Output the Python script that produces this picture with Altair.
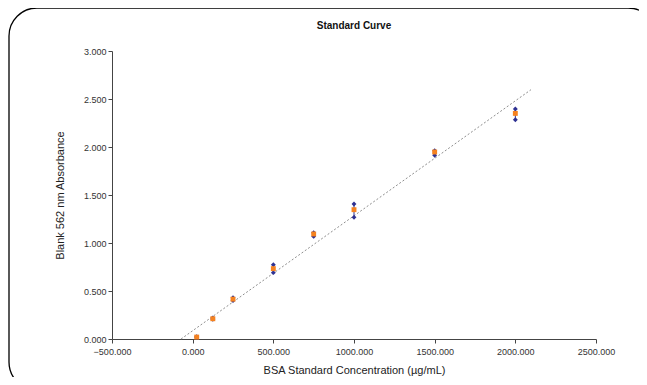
import altair as alt
import pandas as pd

# BSA standard concentrations (ug/mL)
conc = [25, 125, 250, 500, 750, 1000, 1500, 2000]
# mean blank-corrected absorbance (orange markers)
mean_abs = [0.020, 0.211, 0.415, 0.733, 1.094, 1.347, 1.948, 2.350]
# replicate high / low (blue markers)
rep_hi = [0.025, 0.218, 0.430, 0.774, 1.107, 1.406, 1.961, 2.396]
rep_lo = [0.015, 0.205, 0.400, 0.691, 1.069, 1.267, 1.913, 2.284]
# linear trendline end points
trend_x = [-72, 2097]
trend_y = [0.0, 2.597]

x_ticks = [-500, 0, 500, 1000, 1500, 2000, 2500]
y_ticks = [0, 0.5, 1.0, 1.5, 2.0, 2.5, 3.0]
chart_title = "Standard Curve"

df = pd.DataFrame({"conc": conc, "mean": mean_abs, "hi": rep_hi, "lo": rep_lo})
reps = pd.DataFrame({
    "conc": conc + conc,
    "val": rep_hi + rep_lo,
})
trend = pd.DataFrame({"conc": trend_x, "val": trend_y})

W, H = 484, 288
FONT = "Liberation Sans"

xs = alt.Scale(domain=[-500, 2500], nice=False, zero=False)
ys = alt.Scale(domain=[0, 3], nice=False)

x_axis = alt.Axis(values=x_ticks, format=".3f", title="BSA Standard Concentration (µg/mL)",
                  grid=False, tickSize=4, labelPadding=4, titlePadding=8, labelFlush=False)
y_axis = alt.Axis(values=y_ticks, format=".3f", title="Blank 562 nm Absorbance",
                  grid=False, tickSize=4, labelPadding=2, titlePadding=18, labelFlush=False)

base = alt.Chart(df)
one = pd.DataFrame({"t": [chart_title]})

frame = alt.Chart(one).mark_rect(
    fill=None, stroke="black", strokeWidth=1.3, cornerRadius=28
).encode(
    x=alt.value(-103), x2=alt.value(544), y=alt.value(-43), y2=alt.value(339)
)

title_text = alt.Chart(one).mark_text(
    font=FONT, fontSize=10, fontWeight="bold", color="#111", baseline="middle", align="center"
).encode(
    x=alt.value(W / 2), y=alt.value(-25), text="t:N"
)

trend_line = alt.Chart(trend).mark_line(
    color="#8f8f8f", strokeDash=[2, 2], strokeWidth=1
).encode(
    x=alt.X("conc:Q", scale=xs, axis=x_axis),
    y=alt.Y("val:Q", scale=ys, axis=y_axis),
)

err = base.mark_rule(color="#2e3192", strokeWidth=1).encode(
    x="conc:Q", y="lo:Q", y2="hi:Q"
)

rep_pts = alt.Chart(reps).mark_point(
    shape="diamond", filled=True, color="#2e3192", size=24, opacity=1
).encode(x="conc:Q", y="val:Q")

mean_pts = base.mark_point(
    shape="square", filled=True, color="#f58220", size=24, opacity=1
).encode(x="conc:Q", y="mean:Q")

chart = alt.layer(frame, title_text, trend_line, err, rep_pts, mean_pts).properties(
    width=W, height=H,
    autosize=alt.AutoSizeParams(type="none"),
    padding={"left": 104, "top": 43, "right": 43, "bottom": 38},
).configure_view(stroke=None).configure_axis(
    labelFont=FONT, labelFontSize=9, labelColor="#333",
    titleFont=FONT, titleFontSize=11, titleColor="#222", titleFontWeight="normal",
    domainColor="#444", tickColor="#444", domainWidth=1,
)

chart.save("out.html", embed_options={"renderer": "svg", "actions": False})
